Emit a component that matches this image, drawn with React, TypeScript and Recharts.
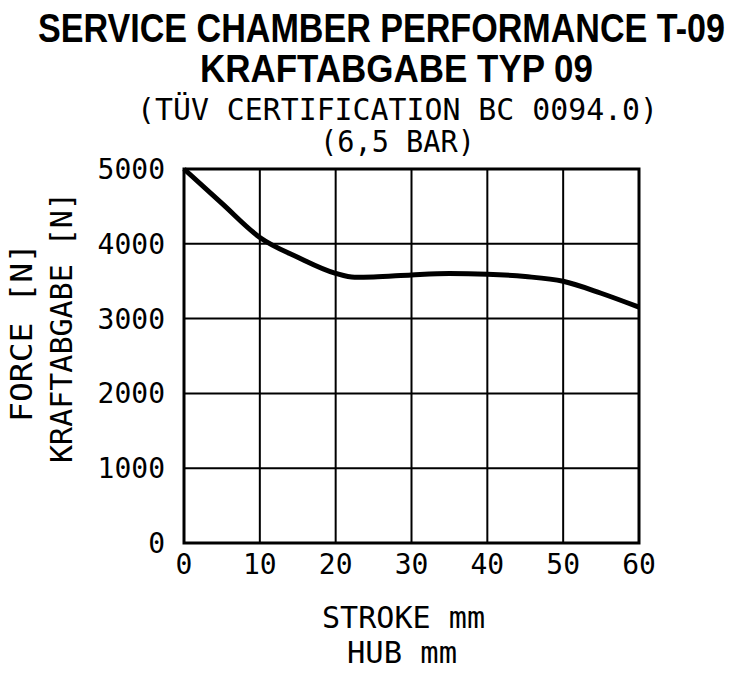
import { LineChart, Line, XAxis, YAxis, CartesianGrid, ReferenceArea } from 'recharts';

// stroke in mm
const strokeMm = [0, 5, 10, 15, 20, 22.5, 25, 30, 35, 40, 45, 50, 55, 60];
// force in N
const forceN = [5000, 4540, 4085, 3820, 3605, 3553, 3557, 3584, 3602, 3593, 3562, 3499, 3339, 3152];

const xTicks = [0, 10, 20, 30, 40, 50, 60];
const yTicks = [0, 1000, 2000, 3000, 4000, 5000];

const data = strokeMm.map((s, i) => ({ stroke: s, force: forceN[i] }));

const MONO = '"DejaVu Sans Mono", monospace';
const NARROW = '"Liberation Sans Narrow", "Liberation Sans", sans-serif';

const tickStyle = { fill: '#000', fontSize: 28, fontFamily: MONO };

const App = () => {
    return (
        <div style={{ position: 'absolute', left: 0, top: 0, width: 733, height: 691, background: '#fff' }}>
            <LineChart
                width={733}
                height={691}
                data={data}
                margin={{ top: 169, right: 94, bottom: 108, left: 84 }}
            >
                <CartesianGrid stroke="#000" strokeWidth={2} />
                <XAxis
                    dataKey="stroke"
                    type="number"
                    domain={[0, 60]}
                    ticks={xTicks}
                    interval={0}
                    axisLine={false}
                    tickLine={false}
                    tickSize={0}
                    tickMargin={11}
                    height={40}
                    tick={tickStyle}
                />
                <YAxis
                    type="number"
                    domain={[0, 5000]}
                    ticks={yTicks}
                    interval={0}
                    axisLine={false}
                    tickLine={false}
                    tickSize={0}
                    tickMargin={19}
                    width={100}
                    tick={tickStyle}
                />
                <ReferenceArea
                    x1={0}
                    x2={60}
                    y1={0}
                    y2={5000}
                    fill="none"
                    fillOpacity={0}
                    stroke="#000"
                    strokeWidth={3}
                    ifOverflow="visible"
                />
                <Line
                    type="monotone"
                    dataKey="force"
                    stroke="#000"
                    strokeWidth={5}
                    dot={false}
                    activeDot={false}
                    isAnimationActive={false}
                />
            </LineChart>

            {/* titles and axis captions */}
            <svg
                width={733}
                height={691}
                style={{ position: 'absolute', left: 0, top: 0, pointerEvents: 'none' }}
            >
                <text x={38} y={42} fontFamily={NARROW} fontWeight="bold" fontSize={40}
                    textLength={687} lengthAdjust="spacingAndGlyphs">
                    SERVICE CHAMBER PERFORMANCE T-09
                </text>
                <text x={200} y={82} fontFamily={NARROW} fontWeight="bold" fontSize={38}
                    textLength={393} lengthAdjust="spacingAndGlyphs">
                    KRAFTABGABE TYP 09
                </text>
                <text x={137} y={120} fontFamily={MONO} fontSize={30}
                    textLength={521} lengthAdjust="spacingAndGlyphs">
                    (TÜV CERTIFICATION BC 0094.0)
                </text>
                <text x={320} y={152} fontFamily={MONO} fontSize={30}
                    textLength={155} lengthAdjust="spacingAndGlyphs">
                    (6,5 BAR)
                </text>

                <text x={32} y={422} transform="rotate(-90 32 422)" fontFamily={MONO} fontSize={30}
                    textLength={179} lengthAdjust="spacingAndGlyphs">
                    FORCE [N]
                </text>
                <text x={72} y={463} transform="rotate(-90 72 463)" fontFamily={MONO} fontSize={30}
                    textLength={271} lengthAdjust="spacingAndGlyphs">
                    KRAFTABGABE [N]
                </text>

                <text x={322} y={628} fontFamily={MONO} fontSize={31}
                    textLength={163} lengthAdjust="spacingAndGlyphs">
                    STROKE mm
                </text>
                <text x={347} y={663} fontFamily={MONO} fontSize={31}
                    textLength={110} lengthAdjust="spacingAndGlyphs">
                    HUB mm
                </text>
            </svg>
        </div>
    );
};

export default App;
